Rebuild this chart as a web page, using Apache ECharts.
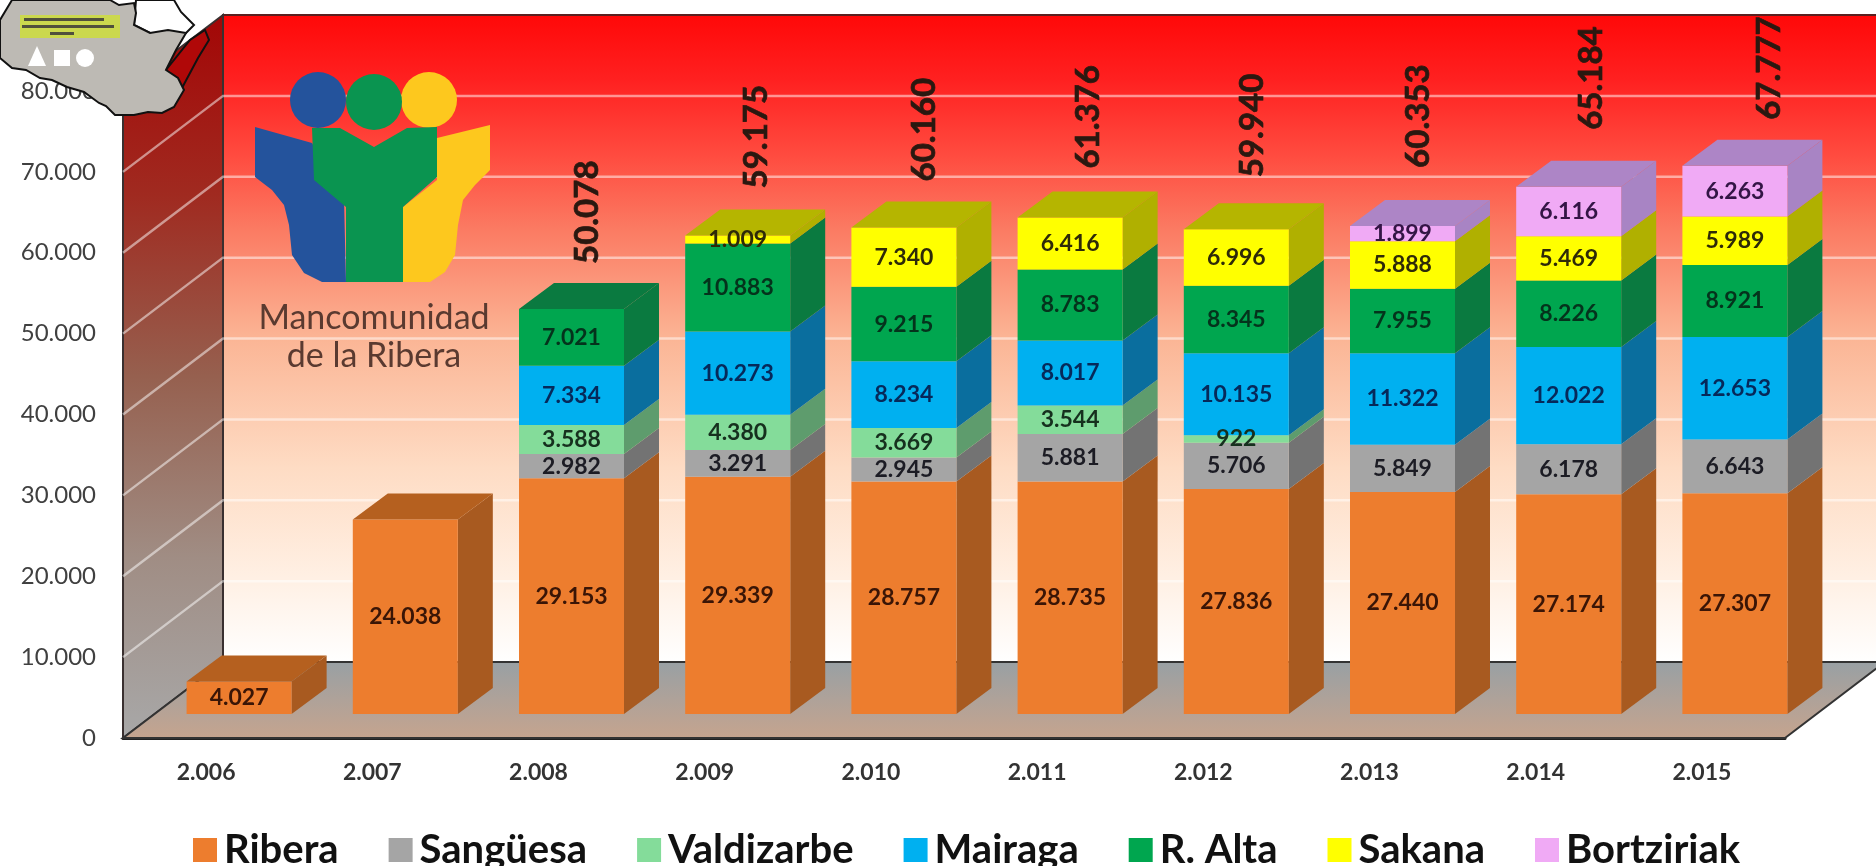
<!DOCTYPE html>
<html>
<head>
<meta charset="utf-8">
<title>Mancomunidad de la Ribera</title>
<style>
  html, body { margin: 0; padding: 0; background: #fff; }
  #chart { width: 1876px; height: 866px; }
</style>
<script src="https://cdn.jsdelivr.net/npm/echarts@6/dist/echarts.min.js"></script>
</head>
<body>
<div id="chart"></div>
<script>
var years = ['2.006', '2.007', '2.008', '2.009', '2.010', '2.011', '2.012', '2.013', '2.014', '2.015'];
var ribera = [4027, 24038, 29153, 29339, 28757, 28735, 27836, 27440, 27174, 27307];
var sanguesa = [0, 0, 2982, 3291, 2945, 5881, 5706, 5849, 6178, 6643];
var valdizarbe = [0, 0, 3588, 4380, 3669, 3544, 922, 0, 0, 0];
var mairaga = [0, 0, 7334, 10273, 8234, 8017, 10135, 11322, 12022, 12653];
var rAlta = [0, 0, 7021, 10883, 9215, 8783, 8345, 7955, 8226, 8921];
var sakana = [0, 0, 0, 1009, 7340, 6416, 6996, 5888, 5469, 5989];
var bortziriak = [0, 0, 0, 0, 0, 0, 0, 1899, 6116, 6263];
// los totales tal como salen escritos en el grafico
var totals = [0, 0, 50078, 59175, 60160, 61376, 59940, 60353, 65184, 67777];
var yTicks = [0, 10000, 20000, 30000, 40000, 50000, 60000, 70000, 80000];

// colocacion de la etiqueta del total sobre cada barra
var totalShiftX = [0, 0, 16, 19, 20, 18, 16, 16, 23, 34];
var totalLift = [0, 0, 19, 21, 20, 23, 26, 32, 31, 20];

var regions = [
  { name: 'Ribera', values: ribera, front: '#ed7d2e', side: '#a85a20', top: '#b5601f', text: '#3a1506' },
  { name: 'Sangüesa', values: sanguesa, front: '#a5a5a5', side: '#737373', top: '#737373', text: '#1c1c24' },
  { name: 'Valdizarbe', values: valdizarbe, front: '#84dc9a', side: '#5e9c6d', top: '#5e9c6d', text: '#16301e' },
  { name: 'Mairaga', values: mairaga, front: '#00b0f0', side: '#0a6e9e', top: '#0a6e9e', text: '#06295a' },
  { name: 'R. Alta', values: rAlta, front: '#00a64f', side: '#0a7a40', top: '#0a7a40', text: '#04331c' },
  { name: 'Sakana', values: sakana, front: '#ffff00', side: '#b0b000', top: '#b5b500', text: '#2e2a08' },
  { name: 'Bortziriak', values: bortziriak, front: '#f0aaf5', side: '#a884c4', top: '#ad85c6', text: '#331545' }
];

var WALL_DX = 100, WALL_DY = 76;   // fondo de la caja 3D
var BAR_DX = 33, BAR_DY = 24;      // donde apoya la barra en el suelo
var DEPTH_DX = 35, DEPTH_DY = 26;  // fondo de la barra
var BAR_W = 105;

var font = 'Lato, "Open Sans", sans-serif';

function fmt(v) {
  return String(v).replace(/\B(?=(\d{3})+$)/g, '.');
}

function linear(x2, y2, stops) {
  var list = stops.map(function (s) { return { offset: s[0], color: s[1] }; });
  return new echarts.graphic.LinearGradient(0, 0, x2, y2, list);
}

// paredes y suelo
function renderWalls(params, api) {
  var g = params.coordSys;
  var l = g.x, t = g.y, r = g.x + g.width, b = g.y + g.height;
  var children = [
    {
      type: 'polygon',
      shape: { points: [[l + WALL_DX, t - WALL_DY], [r + WALL_DX, t - WALL_DY], [r + WALL_DX, b - WALL_DY], [l + WALL_DX, b - WALL_DY]] },
      style: {
        fill: linear(0, 1, [[0, '#ff0808'], [0.1, '#ff2020'], [0.22, '#ff4c40'], [0.33, '#fb7a62'], [0.5, '#fbb595'], [0.7, '#fedcc4'], [0.87, '#fff0e4'], [1, '#ffffff']]),
        stroke: '#5a2020', lineWidth: 2
      }
    },
    {
      type: 'polygon',
      shape: { points: [[l, t], [l + WALL_DX, t - WALL_DY], [l + WALL_DX, b - WALL_DY], [l, b]] },
      style: {
        fill: linear(0, 1, [[0, '#a30606'], [0.25, '#a02a20'], [0.5, '#96604f'], [0.75, '#a08d84'], [1, '#a8a8a8']]),
        stroke: '#3a3030', lineWidth: 2
      }
    },
    {
      type: 'polygon',
      shape: { points: [[l, b], [r, b], [r + WALL_DX, b - WALL_DY], [l + WALL_DX, b - WALL_DY]] },
      style: {
        fill: linear(0, 1, [[0, '#98a0a4'], [1, '#c6a48e']]),
        stroke: '#333333', lineWidth: 2
      }
    }
  ];
  return { type: 'group', children: children };
}

// lineas de rejilla en pared lateral y pared del fondo
function renderGrid(params, api) {
  var g = params.coordSys;
  var y = api.coord([0, api.value(0)])[1];
  if (api.value(0) === 0 || api.value(0) === 80000) {
    return;
  }
  return {
    type: 'polyline',
    shape: { points: [[g.x, y], [g.x + WALL_DX, y - WALL_DY], [g.x + g.width + WALL_DX, y - WALL_DY]] },
    style: { stroke: 'rgba(255,255,255,0.5)', lineWidth: 2.5, fill: null }
  };
}

function renderSegment(params, api) {
  var region = regions[params.seriesIndex - 2];
  var i = api.value(0), base = api.value(1), val = api.value(2), isTop = api.value(3);
  if (!val) {
    return;
  }
  var x = api.coord([i, 0])[0] - BAR_W / 2 + BAR_DX;
  var y0 = api.coord([i, base])[1] - BAR_DY;
  var y1 = api.coord([i, base + val])[1] - BAR_DY;
  var x1 = x + BAR_W;
  var children = [
    {
      type: 'polygon',
      shape: { points: [[x1, y1], [x1 + DEPTH_DX, y1 - DEPTH_DY], [x1 + DEPTH_DX, y0 - DEPTH_DY], [x1, y0]] },
      style: { fill: region.side }
    },
    {
      type: 'rect',
      shape: { x: x, y: y1, width: BAR_W, height: y0 - y1 },
      style: { fill: region.front }
    }
  ];
  if (isTop) {
    children.push({
      type: 'polygon',
      shape: { points: [[x, y1], [x + DEPTH_DX, y1 - DEPTH_DY], [x1 + DEPTH_DX, y1 - DEPTH_DY], [x1, y1]] },
      style: { fill: region.top }
    });
  }
  return { type: 'group', children: children };
}

function renderValue(params, api) {
  var i = api.value(0), base = api.value(1), val = api.value(2), r = api.value(3);
  if (!val) {
    return;
  }
  var p = api.coord([i, base + val / 2]);
  return {
    type: 'text',
    style: {
      text: fmt(val),
      x: p[0] + BAR_DX,
      y: p[1] - BAR_DY,
      fill: regions[r].text,
      font: 'bold 23px ' + font,
      align: 'center',
      verticalAlign: 'middle'
    }
  };
}

function renderTotal(params, api) {
  var i = api.value(0), val = api.value(1);
  if (!val) {
    return;
  }
  var p = api.coord([i, val]);
  return {
    type: 'text',
    x: p[0] + BAR_DX + totalShiftX[i],
    y: p[1] - BAR_DY - DEPTH_DY - totalLift[i],
    rotation: Math.PI / 2,
    style: {
      text: fmt(val),
      fill: '#2a1810',
      stroke: '#2a1810',
      lineWidth: 0.7,
      font: 'bold 33px ' + font,
      align: 'left',
      verticalAlign: 'middle'
    }
  };
}

// series de la pila, calculando la base de cada tramo
var stackBase = years.map(function () { return 0; });
var valueRows = [];
var stackSeries = regions.map(function (region, r) {
  var data = region.values.map(function (v, i) {
    var base = stackBase[i];
    stackBase[i] += v;
    var above = regions.slice(r + 1).some(function (o) { return o.values[i] > 0; });
    valueRows.push([i, base, v, r]);
    return [i, base, v, above ? 0 : 1];
  });
  return {
    name: region.name,
    type: 'custom',
    renderItem: renderSegment,
    encode: { x: 0, y: [1, 2] },
    itemStyle: { color: region.front },
    data: data,
    z: 5
  };
});

var series = [
  { name: 'paredes', type: 'custom', renderItem: renderWalls, data: [[0, 0]], silent: true, z: 1 },
  {
    name: 'rejilla', type: 'custom', renderItem: renderGrid, silent: true, z: 2,
    encode: { y: 0 },
    data: yTicks.map(function (v) { return [v]; })
  }
].concat(stackSeries).concat([
  { name: 'valores', type: 'custom', renderItem: renderValue, encode: { x: 0, y: 1 }, data: valueRows, silent: true, z: 6 },
  {
    name: 'totales', type: 'custom', renderItem: renderTotal, silent: true, z: 6,
    encode: { x: 0, y: 1 },
    data: totals.map(function (v, i) { return [i, v]; })
  }
]);

// logotipo y mapa, encima de todo
var decor = [
  { type: 'circle', shape: { cx: 429, cy: 100, r: 28 }, style: { fill: '#fdc81e' } },
  { type: 'circle', shape: { cx: 318, cy: 100, r: 28 }, style: { fill: '#24539c' } },
  { type: 'circle', shape: { cx: 374, cy: 102, r: 28 }, style: { fill: '#0a9450' } },
  { type: 'polygon', shape: { points: [[255, 127], [312, 143], [344, 200], [346, 282], [322, 282], [304, 273], [292, 255], [289, 225], [284, 205], [272, 190], [255, 177]] }, style: { fill: '#24539c' } },
  { type: 'polygon', shape: { points: [[437, 138], [490, 125], [490, 170], [475, 185], [463, 200], [458, 225], [455, 255], [445, 272], [430, 282], [403, 282], [403, 207], [437, 180]] }, style: { fill: '#fdc81e' } },
  { type: 'polygon', shape: { points: [[312, 128], [340, 128], [374, 147], [407, 128], [437, 127], [437, 177], [403, 207], [403, 282], [346, 282], [346, 207], [314, 180]] }, style: { fill: '#0a9450' } },
  { type: 'text', style: { text: 'Mancomunidad', x: 374, y: 318, fill: '#5a3a30', font: '34px ' + font, align: 'center', verticalAlign: 'middle' } },
  { type: 'text', style: { text: 'de la Ribera', x: 374, y: 356, fill: '#5a3a30', font: '34px ' + font, align: 'center', verticalAlign: 'middle' } },
  { type: 'polygon', shape: { points: [[136, 0], [174, 0], [181, 12], [194, 25], [186, 33], [150, 33], [134, 25]] }, style: { fill: '#ffffff', stroke: '#111', lineWidth: 2 } },
  { type: 'polygon', shape: { points: [[205, 30], [209, 40], [198, 58], [182, 88], [166, 70], [190, 40]] }, style: { fill: '#b00808', stroke: '#111', lineWidth: 2 } },
  {
    type: 'polygon',
    shape: { points: [[12, 0], [110, 0], [119, 5], [134, 3], [136, 13], [134, 25], [150, 33], [168, 30], [186, 33], [176, 50], [166, 70], [178, 78], [184, 90], [174, 107], [162, 113], [148, 112], [134, 115], [115, 115], [106, 106], [99, 103], [84, 92], [67, 87], [52, 80], [40, 78], [26, 70], [12, 68], [0, 58], [0, 20]] },
    style: { fill: '#bdbab4', stroke: '#111', lineWidth: 2 }
  },
  { type: 'rect', shape: { x: 20, y: 15, width: 100, height: 23 }, style: { fill: '#cbd84e' } },
  { type: 'rect', shape: { x: 24, y: 18, width: 80, height: 3 }, style: { fill: '#50503c' } },
  { type: 'rect', shape: { x: 22, y: 25, width: 92, height: 3 }, style: { fill: '#50503c' } },
  { type: 'rect', shape: { x: 50, y: 32, width: 24, height: 3 }, style: { fill: '#50503c' } },
  { type: 'polygon', shape: { points: [[37, 46], [46, 66], [28, 66]] }, style: { fill: '#ffffff' } },
  { type: 'rect', shape: { x: 54, y: 50, width: 16, height: 16 }, style: { fill: '#ffffff' } },
  { type: 'circle', shape: { cx: 85, cy: 58, r: 9 }, style: { fill: '#ffffff' } }
];
decor.forEach(function (d) { d.z = 100; });

var option = {
  animation: false,
  backgroundColor: '#ffffff',
  color: regions.map(function (r) { return r.front; }),
  grid: { left: 123, top: 91, width: 1662, height: 647, containLabel: false },
  legend: {
    left: 188,
    top: 825,
    itemWidth: 24,
    itemHeight: 24,
    itemGap: 50,
    icon: 'rect',
    data: regions.map(function (r) { return r.name; }),
    textStyle: { color: '#111111', fontSize: 40, fontWeight: 'bold', fontFamily: font, padding: [0, 0, 0, 2] }
  },
  xAxis: {
    type: 'category',
    data: years,
    axisTick: { show: false },
    axisLine: { lineStyle: { color: '#222222', width: 3 } },
    axisLabel: { color: '#333333', fontSize: 23, fontWeight: 'bold', fontFamily: font, margin: 23 }
  },
  yAxis: {
    type: 'value',
    min: 0,
    max: 80000,
    interval: 10000,
    splitLine: { show: false },
    axisLine: { show: false },
    axisTick: { show: false },
    axisLabel: { color: '#404040', fontSize: 24, fontFamily: font, margin: 27, formatter: fmt }
  },
  graphic: { elements: decor },
  series: series
};

var chart = echarts.init(document.getElementById('chart'));
chart.setOption(option);
window.addEventListener('resize', function () {
  chart.resize();
});
</script>
</body>
</html>
